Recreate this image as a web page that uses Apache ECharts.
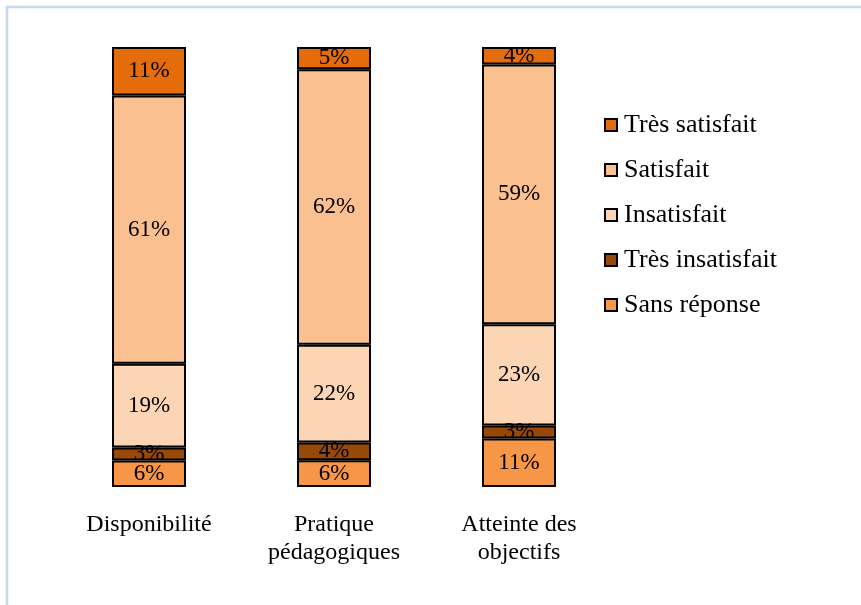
<!DOCTYPE html>
<html>
<head>
<meta charset="utf-8">
<script src="https://cdn.jsdelivr.net/npm/echarts@6/dist/echarts.min.js"></script>
<style>html,body{margin:0;padding:0;background:#fff;}#c{width:861px;height:605px;}</style>
</head>
<body>
<div id="c"></div>
<script>
var categories = ['Disponibilité', 'Pratique\npédagogiques', 'Atteinte des\nobjectifs'];
var seriesNames = ['Sans réponse', 'Très insatisfait', 'Insatisfait', 'Satisfait', 'Très satisfait'];
var sansReponse = [6, 6, 11];
var tresInsatisfait = [3, 4, 3];
var insatisfait = [19, 22, 23];
var satisfait = [61, 62, 59];
var tresSatisfait = [11, 5, 4];
var colors = ['#F79646', '#984807', '#FCD5B5', '#FAC090', '#E46C0A'];

var raw = [sansReponse, tresInsatisfait, insatisfait, satisfait, tresSatisfait];
var totals = categories.map(function (_, i) {
  return raw.reduce(function (s, arr) { return s + arr[i]; }, 0);
});
var FONT = '"Liberation Serif", "Times New Roman", serif';

var series = raw.map(function (arr, k) {
  return {
    name: seriesNames[k],
    type: 'bar',
    stack: 'total',
    barWidth: 74,
    data: arr.map(function (v, i) { return { value: v / totals[i] * 100, raw: v }; }),
    itemStyle: { color: colors[k], borderColor: '#000', borderWidth: 2 },
    label: {
      show: true,
      position: 'inside',
      color: '#000',
      fontFamily: FONT,
      fontSize: 23,
      formatter: function (p) { return p.data.raw + '%'; }
    }
  };
});

var chart = echarts.init(document.getElementById('c'), null, { renderer: 'canvas' });
chart.setOption({
  backgroundColor: '#fff',
  animation: false,
  graphic: [{
    type: 'rect',
    shape: { x: 7, y: 7, width: 1000, height: 1000 },
    style: { fill: 'none', stroke: '#C6D9F1', lineWidth: 2.5 },
    silent: true
  }],
  grid: { left: 56.5, right: 861 - 611.5, top: 47, bottom: 118, containLabel: false },
  xAxis: {
    type: 'category',
    data: categories,
    axisLine: { show: false },
    axisTick: { show: false },
    axisLabel: {
      color: '#000', fontFamily: FONT, fontSize: 24, lineHeight: 28, margin: 24, interval: 0
    }
  },
  yAxis: {
    type: 'value', min: 0, max: 100, show: false,
    splitLine: { show: false }
  },
  legend: {
    orient: 'vertical',
    left: 599,
    top: 107,
    icon: 'rect',
    itemWidth: 12,
    itemHeight: 12,
    itemGap: 19,
    data: ['Très satisfait', 'Satisfait', 'Insatisfait', 'Très insatisfait', 'Sans réponse'],
    textStyle: { color: '#000', fontFamily: FONT, fontSize: 26, padding: [0, 0, 0, 2] },
    itemStyle: { borderColor: '#000', borderWidth: 2 }
  },
  series: series
});
</script>
</body>
</html>
